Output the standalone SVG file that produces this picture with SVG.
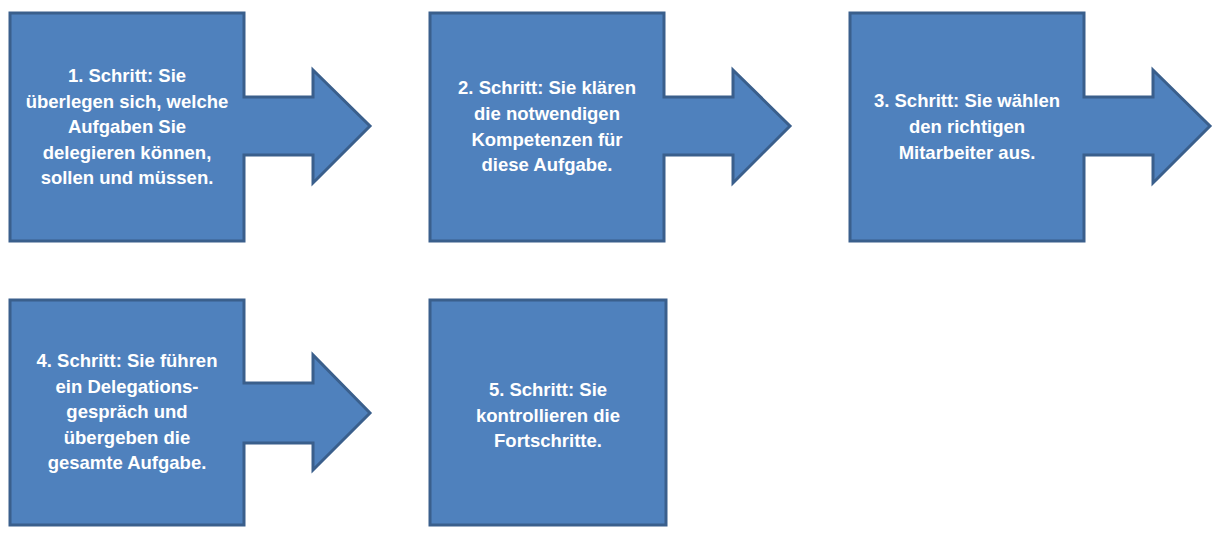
<svg xmlns="http://www.w3.org/2000/svg" width="1219" height="557" viewBox="0 0 1219 557">
<style>
.s{fill:#4F81BD;stroke:#3A5F8C;stroke-width:3;stroke-linejoin:miter}
.t{fill:#FFFFFF;font-family:"Liberation Sans",Arial,sans-serif;font-weight:bold;font-size:18.5px;text-anchor:middle}
</style>
<rect width="1219" height="557" fill="#FFFFFF"/>
<g id="connectors"></g>
<g id="step1">
<path class="s" d="M10,13 H244 V97 H313 V70 L370,126 L313,183 V155 H244 V241 H10 Z"/>
<text class="t"><tspan x="127" y="82">1. Schritt: Sie</tspan><tspan x="127" y="107.5">überlegen sich, welche</tspan><tspan x="127" y="133">Aufgaben Sie</tspan><tspan x="127" y="158.5">delegieren können,</tspan><tspan x="127" y="184">sollen und müssen.</tspan></text>
</g>
<g id="step2">
<path class="s" d="M430,13 H664 V97 H733 V70 L790,126 L733,183 V155 H664 V241 H430 Z"/>
<text class="t"><tspan x="547" y="94">2. Schritt: Sie klären</tspan><tspan x="547" y="120">die notwendigen</tspan><tspan x="547" y="145.5">Kompetenzen für</tspan><tspan x="547" y="171">diese Aufgabe.</tspan></text>
</g>
<g id="step3">
<path class="s" d="M850,13 H1084 V97 H1153 V70 L1210,126 L1153,183 V155 H1084 V241 H850 Z"/>
<text class="t"><tspan x="967" y="107">3. Schritt: Sie wählen</tspan><tspan x="967" y="133">den richtigen</tspan><tspan x="967" y="159">Mitarbeiter aus.</tspan></text>
</g>
<g id="step4">
<path class="s" d="M10,300 H244 V383 H313 V355 L370,413 L313,470 V443 H244 V525 H10 Z"/>
<text class="t"><tspan x="127" y="367">4. Schritt: Sie führen</tspan><tspan x="127" y="393">ein Delegations-</tspan><tspan x="127" y="418">gespräch und</tspan><tspan x="127" y="444">übergeben die</tspan><tspan x="127" y="469">gesamte Aufgabe.</tspan></text>
</g>
<g id="step5">
<rect class="s" x="430" y="300" width="236" height="225"/>
<text class="t"><tspan x="548" y="396">5. Schritt: Sie</tspan><tspan x="548" y="422">kontrollieren die</tspan><tspan x="548" y="447">Fortschritte.</tspan></text>
</g>
</svg>
